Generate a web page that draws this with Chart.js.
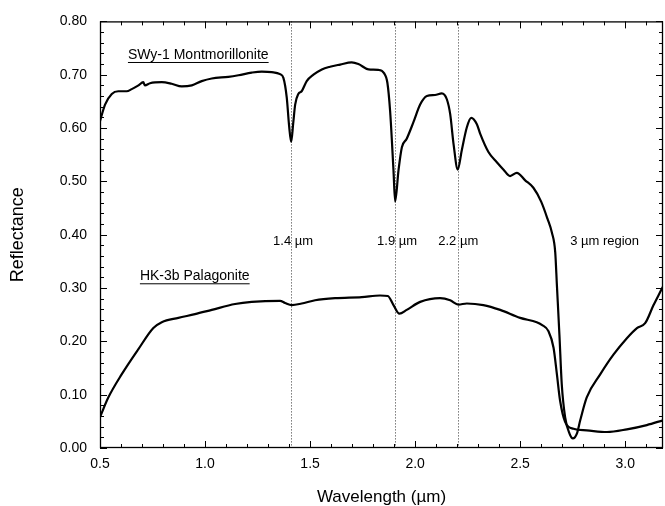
<!DOCTYPE html>
<html>
<head>
<meta charset="utf-8">
<script src="https://cdn.jsdelivr.net/npm/chart.js@4/dist/chart.umd.min.js"></script>
<style>
  html, body { margin: 0; padding: 0; background: #fff; }
  #wrap { width: 665px; height: 506px; }
</style>
</head>
<body>
<div id="wrap"><canvas id="c" width="665" height="506"></canvas></div>
<script>
// ---- Data ----
const montWavelength = [0.50,0.524,0.556,0.587,0.627,0.651,0.683,0.706,0.714,0.738,0.794,0.841,0.889,0.937,0.984,1.032,1.111,1.159,1.222,1.270,1.317,1.357,1.373,1.389,1.400,1.410,1.420,1.429,1.444,1.460,1.484,1.516,1.556,1.595,1.643,1.698,1.730,1.778,1.825,1.852,1.868,1.881,1.897,1.905,1.921,1.937,1.960,1.992,2.024,2.056,2.095,2.127,2.151,2.167,2.183,2.203,2.222,2.246,2.267,2.294,2.310,2.349,2.389,2.421,2.452,2.484,2.524,2.563,2.600,2.630,2.651,2.667,2.675,2.687,2.698,2.714,2.735,2.751,2.770,2.786,2.817,2.881,2.944,3.008,3.056,3.095,3.135,3.175,3.18];
const montReflectance = [0.613,0.644,0.664,0.669,0.669,0.673,0.680,0.686,0.680,0.684,0.686,0.683,0.678,0.680,0.688,0.693,0.696,0.699,0.704,0.706,0.705,0.701,0.694,0.657,0.605,0.574,0.610,0.644,0.664,0.669,0.688,0.700,0.710,0.715,0.719,0.723,0.720,0.710,0.709,0.703,0.685,0.632,0.521,0.462,0.521,0.564,0.580,0.611,0.644,0.660,0.662,0.665,0.654,0.626,0.570,0.522,0.558,0.601,0.619,0.607,0.589,0.555,0.536,0.522,0.510,0.516,0.502,0.488,0.462,0.430,0.404,0.367,0.305,0.212,0.120,0.058,0.027,0.018,0.027,0.052,0.095,0.138,0.175,0.206,0.225,0.234,0.268,0.299,0.303];

const palaWavelength = [0.50,0.540,0.603,0.682,0.754,0.794,0.873,0.952,1.032,1.143,1.222,1.357,1.381,1.413,1.460,1.524,1.619,1.746,1.833,1.870,1.897,1.925,1.960,2.024,2.119,2.167,2.206,2.246,2.325,2.405,2.500,2.579,2.603,2.635,2.659,2.675,2.690,2.714,2.754,2.817,2.913,3.008,3.103,3.18];
const palaReflectance = [0.058,0.095,0.138,0.185,0.225,0.236,0.244,0.251,0.259,0.270,0.274,0.276,0.272,0.268,0.271,0.277,0.281,0.283,0.286,0.285,0.268,0.252,0.259,0.274,0.281,0.277,0.269,0.271,0.268,0.259,0.244,0.236,0.231,0.219,0.188,0.138,0.089,0.049,0.036,0.033,0.030,0.035,0.043,0.052];

const xTickValues = [0.5,1.0,1.5,2.0,2.5,3.0];
const yTickValues = [0.0,0.1,0.2,0.3,0.4,0.5,0.6,0.7,0.8];
const bandLines = [1.41,1.905,2.205];

// annotation texts, anchored in data coordinates (left edge, vertical middle)
const noteTexts = ['SWy-1 Montmorillonite','HK-3b Palagonite','1.4 \u00b5m','1.9 \u00b5m','2.2 \u00b5m','3 \u00b5m region'];
const noteX = [0.633,0.690,1.324,1.819,2.110,2.738];
const noteY = [0.737,0.322,0.387,0.387,0.387,0.387];
const noteSize = [14,14,13,13,13,13];
const noteUnderline = [true,true,false,false,false,false];

const toPts = (xs, ys) => xs.map((v,i)=>({x:v, y:ys[i]}));

const frame = {
  id: 'frame',
  beforeDatasetsDraw(chart) {
    const {ctx, chartArea: a, scales: {x}} = chart;
    ctx.save();
    ctx.strokeStyle = '#333';
    ctx.lineWidth = 1;
    ctx.setLineDash([1, 2]);
    bandLines.forEach(v => {
      const px = Math.round(x.getPixelForValue(v)) + 0.5;
      ctx.beginPath(); ctx.moveTo(px, a.top); ctx.lineTo(px, a.bottom); ctx.stroke();
    });
    ctx.restore();
  },
  afterDatasetsDraw(chart) {
    const {ctx, chartArea: a, scales: {x, y}} = chart;
    ctx.save();
    ctx.strokeStyle = '#000';
    ctx.lineWidth = 1.3;
    ctx.strokeRect(a.left + 0.5, a.top + 0.5, a.right - a.left - 1, a.bottom - a.top - 1);
    ctx.lineWidth = 1;
    // x ticks (minor every 0.1), inward on bottom & top
    for (let k = 5; k <= 31; k++) {
      const v = k / 10;
      const major = (k % 5 === 0);
      const len = major ? 7 : 4;
      const px = Math.round(x.getPixelForValue(v)) + 0.5;
      ctx.beginPath();
      ctx.moveTo(px, a.bottom); ctx.lineTo(px, a.bottom - len);
      ctx.moveTo(px, a.top); ctx.lineTo(px, a.top + len);
      ctx.stroke();
    }
    // y ticks (minor every 0.02), inward on left & right
    for (let k = 0; k <= 40; k++) {
      const v = k / 50;
      const major = (k % 5 === 0);
      const len = major ? 7 : 4;
      const py = Math.round(y.getPixelForValue(v)) + 0.5;
      ctx.beginPath();
      ctx.moveTo(a.left, py); ctx.lineTo(a.left + len, py);
      ctx.moveTo(a.right, py); ctx.lineTo(a.right - len, py);
      ctx.stroke();
    }
    // annotations
    ctx.fillStyle = '#000';
    ctx.textBaseline = 'middle';
    ctx.textAlign = 'left';
    noteTexts.forEach((t, i) => {
      ctx.font = noteSize[i] + 'px "Liberation Sans", Arial, sans-serif';
      const px = x.getPixelForValue(noteX[i]);
      const py = y.getPixelForValue(noteY[i]);
      ctx.fillText(t, px, py);
      if (noteUnderline[i]) {
        const w = ctx.measureText(t).width;
        ctx.beginPath();
        ctx.moveTo(px, py + 7.5); ctx.lineTo(px + w, py + 7.5);
        ctx.stroke();
      }
    });
    ctx.restore();
  }
};

new Chart(document.getElementById('c'), {
  type: 'line',
  data: {
    datasets: [
      { label: 'SWy-1 Montmorillonite', data: toPts(montWavelength, montReflectance),
        borderColor: '#000', borderWidth: 2.2, pointRadius: 0, cubicInterpolationMode: 'monotone', fill: false },
      { label: 'HK-3b Palagonite', data: toPts(palaWavelength, palaReflectance),
        borderColor: '#000', borderWidth: 2.2, pointRadius: 0, cubicInterpolationMode: 'monotone', fill: false }
    ]
  },
  options: {
    responsive: false,
    animation: false,
    devicePixelRatio: 1,
    layout: { padding: { top: 16, right: 2, left: 0, bottom: 0 } },
    plugins: { legend: { display: false }, tooltip: { enabled: false } },
    scales: {
      x: {
        type: 'linear', min: 0.5, max: 3.18,
        afterBuildTicks: s => { s.ticks = xTickValues.map(v => ({value: v})); },
        afterFit: s => { s.height = 58; },
        grid: { display: false, drawTicks: false },
        border: { display: false },
        ticks: { color: '#000', padding: 8, maxRotation: 0, autoSkip: false,
                 font: { family: '"Liberation Sans", Arial, sans-serif', size: 14 },
                 callback: v => Number(v).toFixed(1) },
        title: { display: true, text: 'Wavelength (\u00b5m)', color: '#000',
                 font: { family: '"Liberation Sans", Arial, sans-serif', size: 17, lineHeight: 1 },
                 padding: { top: 0, bottom: 0 } }
      },
      y: {
        type: 'linear', min: 0, max: 0.8,
        afterBuildTicks: s => { s.ticks = yTickValues.map(v => ({value: v})); },
        afterFit: s => { s.width = 100; },
        grid: { display: false, drawTicks: false },
        border: { display: false },
        ticks: { color: '#000', padding: 13, autoSkip: false,
                 font: { family: '"Liberation Sans", Arial, sans-serif', size: 14 },
                 callback: v => Number(v).toFixed(2) },
        title: { display: true, text: 'Reflectance', color: '#000',
                 font: { family: '"Liberation Sans", Arial, sans-serif', size: 18, lineHeight: 1 },
                 padding: { top: 9, bottom: 0 } }
      }
    }
  },
  plugins: [frame]
});
</script>
</body>
</html>
